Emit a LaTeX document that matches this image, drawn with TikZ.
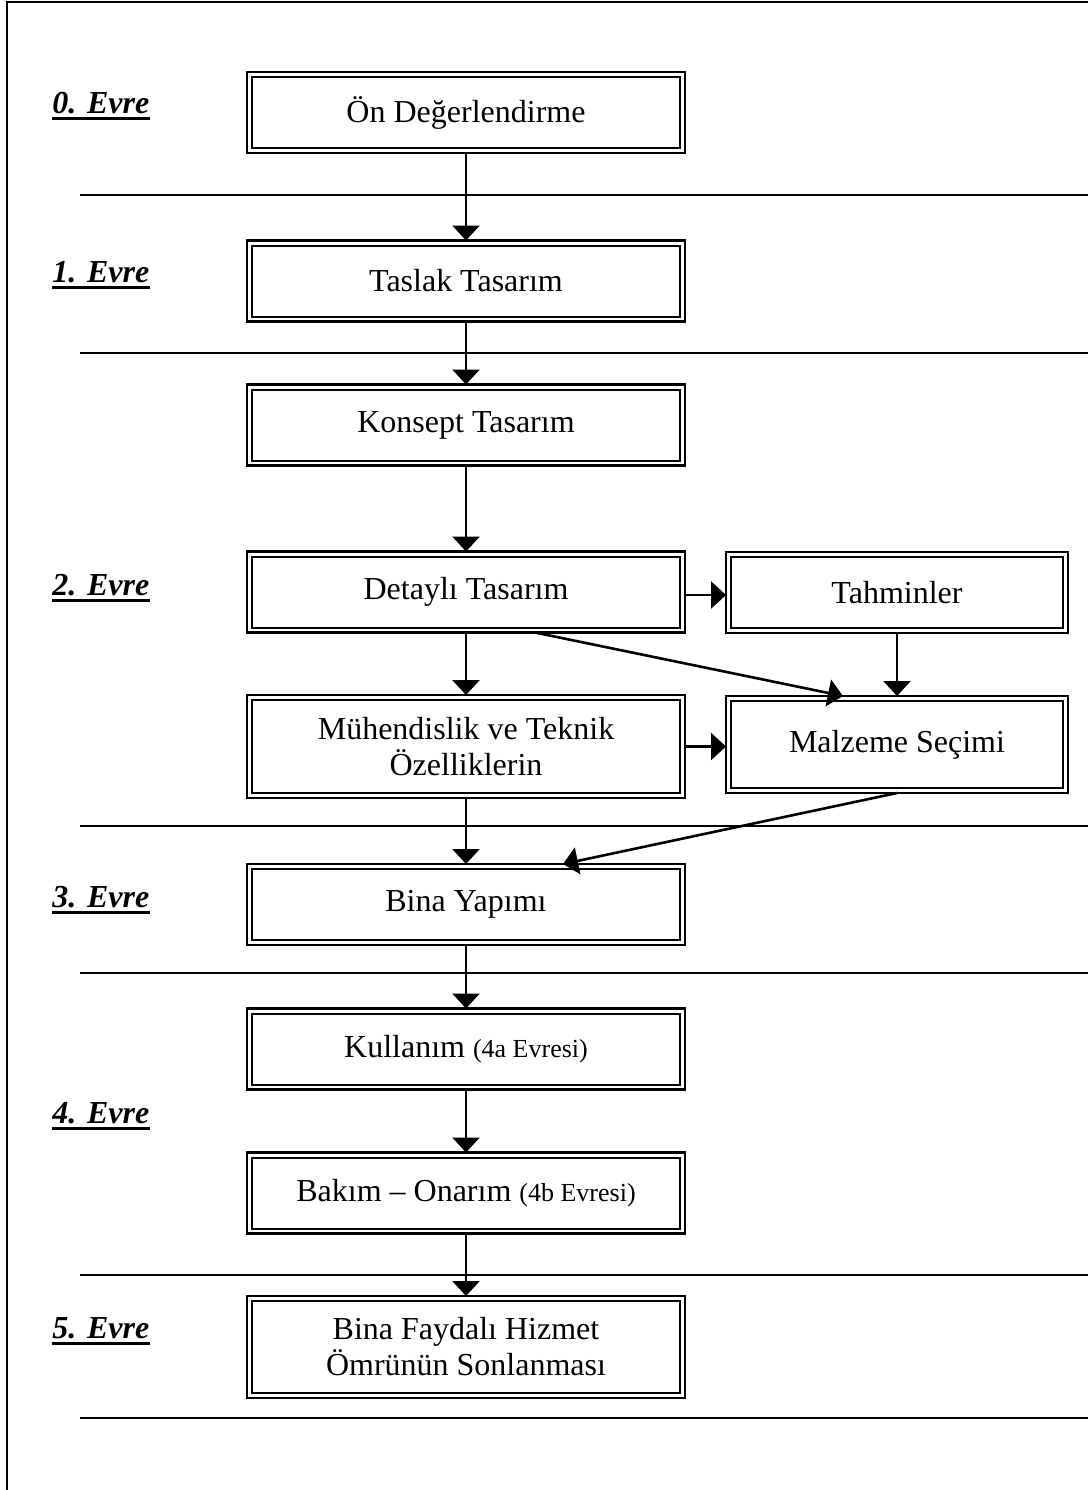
\documentclass[tikz,border=0pt]{standalone}
\usepackage{fontspec}
\setmainfont{Liberation Serif}
\usetikzlibrary{arrows.meta}
\begin{document}
\begin{tikzpicture}[x=0.5pt,y=-0.5pt,
  stagebox/.style={draw, line width=1.4pt, inner sep=0pt, outer sep=0pt,
    minimum width=219pt, minimum height=40.5pt, align=center,
    font=\fontsize{16}{18}\selectfont},
  sidebox/.style={stagebox, minimum width=171pt},
  flow/.style={line width=1.3pt, -{Triangle[length=7.5pt,width=13.5pt]}},
  phase/.style={anchor=base west, inner sep=0pt,
    font=\fontsize{16}{18}\selectfont\bfseries\itshape},
  divider/.style={line width=0.9pt},
  small/.style={}
]
\useasboundingbox (0,0) rectangle (1088,1490);

% outer frame (top and left edges)
\draw[line width=1pt] (1088,1.5) -- (6.5,1.5) -- (6.5,1490);

% phase separators
\foreach \yy in {195,353,826,973,1275,1418}
  \draw[divider] (80,\yy) -- (1088,\yy);

% process boxes
\node[stagebox] (n0) at (466,112.5) {Ön Değerlendirme};
\node[stagebox] (n1) at (466,281) {Taslak Tasarım};
\node[stagebox] (n2) at (466,425) {Konsept Tasarım};
\node[stagebox] (n3) at (466,592) {Detaylı Tasarım};
\node[sidebox]  (nt) at (897,592.5) {Tahminler};
\node[stagebox, minimum height=51.5pt] (n4) at (466,746.5) {Mühendislik ve Teknik\\Özelliklerin};
\node[sidebox, minimum height=48.5pt] (nm) at (897,744.5) {Malzeme Seçimi};
\node[stagebox] (n5) at (466,904.5) {Bina Yapımı};
\node[stagebox] (n6) at (466,1049) {Kullanım {\fontsize{13}{15}\selectfont(4a Evresi)}};
\node[stagebox] (n7) at (466,1193) {Bakım – Onarım {\fontsize{13}{15}\selectfont(4b Evresi)}};
\node[stagebox, minimum height=51pt] (n8) at (466,1347) {Bina Faydalı Hizmet\\Ömrünün Sonlanması};

% inner line of the double borders
\foreach \n in {n0,n1,n2,n3,nt,n4,nm,n5,n6,n7,n8}
  \draw[line width=1pt] ([shift={(2.5pt,-2.5pt)}]\n.north west)
    rectangle ([shift={(-2.5pt,2.5pt)}]\n.south east);

% phase labels
\node[phase] (e0) at (52,113) {0. Evre};
\node[phase] (e1) at (52,282) {1. Evre};
\node[phase] (e2) at (52,595) {2. Evre};
\node[phase] (e3) at (52,907) {3. Evre};
\node[phase] (e4) at (52,1123) {4. Evre};
\node[phase] (e5) at (52,1338) {5. Evre};
\foreach \e in {e0,e1,e2,e3,e4,e5}
  \draw[line width=1.6pt] ([yshift=-2.8pt]\e.base west) -- ([yshift=-2.8pt]\e.base east);

% main flow
\draw[flow] (n0.south) -- (n1.north);
\draw[flow] (n1.south) -- (n2.north);
\draw[flow] (n2.south) -- (n3.north);
\draw[flow] (n3.south) -- (n4.north);
\draw[flow] (n4.south) -- (n5.north);
\draw[flow] (n5.south) -- (n6.north);
\draw[flow] (n6.south) -- (n7.north);
\draw[flow] (n7.south) -- (n8.north);

% side branches
\draw[flow] ([yshift=-1.5pt]n3.east) -- ([yshift=-1.5pt]n3.east -| nt.west);
\draw[flow] (nt.south) -- (nm.north);
\draw[flow] ([xshift=34.5pt]n3.south) -- ([xshift=-27pt]nm.north);
\draw[flow] (n4.east) -- (n4.east -| nm.west);
\draw[flow] (nm.south) -- ([xshift=48.5pt]n5.north);
\end{tikzpicture}
\end{document}
